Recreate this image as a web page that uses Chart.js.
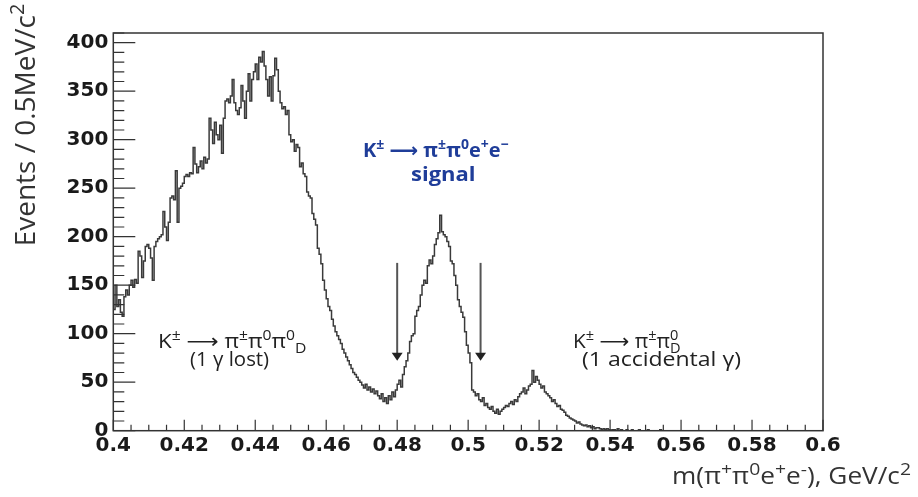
<!DOCTYPE html>
<html><head><meta charset="utf-8">
<script src="https://cdn.jsdelivr.net/npm/chart.js@4.4.1/dist/chart.umd.min.js"></script>
<style>html,body{margin:0;padding:0;background:#fff;} canvas{display:block;}</style>
</head><body>
<canvas id="c" width="918" height="497"></canvas>
<script>
// ---- data ----
const X_MIN = 0.4, X_MAX = 0.6, BIN_WIDTH = 0.0005;
const Y_MIN = 0, Y_MAX = 410;
const xTickValues = [0.4, 0.42, 0.44, 0.46, 0.48, 0.5, 0.52, 0.54, 0.56, 0.58, 0.6];
const xTickLabels = ['0.4', '0.42', '0.44', '0.46', '0.48', '0.5', '0.52', '0.54', '0.56', '0.58', '0.6'];
const yTickValues = [0, 50, 100, 150, 200, 250, 300, 350, 400];
const yTickLabels = ['0', '50', '100', '150', '200', '250', '300', '350', '400'];
// events per 0.5 MeV bin, from 0.400 to 0.600 GeV (400 bins)
const counts = [
  140,125,150,128,135,122,118,138,145,140,150,155,148,156,152,185,180,158,175,190,
  192,188,178,155,190,195,198,200,202,226,210,196,215,240,242,238,268,215,250,252,
  255,262,264,262,266,265,292,275,266,272,278,270,282,276,280,322,310,296,318,305,
  300,315,286,322,340,342,338,345,362,338,330,326,333,356,340,322,350,368,340,362,
  370,378,362,385,380,391,376,362,345,365,340,366,384,372,350,338,332,334,326,330,
  305,298,300,288,295,292,272,276,265,262,246,242,240,224,218,212,188,182,172,155,
  145,136,128,124,115,108,102,98,94,90,84,80,76,72,68,64,60,58,55,52,
  50,47,44,48,42,45,40,43,38,41,36,33,38,30,34,28,36,32,40,35,
  42,48,52,45,58,66,72,80,92,98,100,118,124,128,140,150,155,152,170,176,
  172,180,192,198,204,222,205,202,200,195,190,175,172,160,150,135,128,122,117,102,
  88,80,70,42,40,36,38,32,30,34,26,28,24,22,25,20,18,22,17,20,
  22,24,26,25,28,30,27,32,30,35,38,40,44,38,42,46,48,62,50,56,
  52,48,44,46,40,38,36,34,30,32,28,25,26,22,21,19,16,15,13,12,
  11,10,8,9,7,6,5,6,4,5,3,4,2,3,3,2,1,2,1,2,
  1,0,1,1,0,2,0,1,0,0,1,0,0,1,0,0,0,1,0,0,
  0,0,1,0,0,0,0,0,0,1,0,0,0,0,0,0,0,0,0,0,
  0,0,0,0,0,0,0,0,0,0,0,0,0,0,0,0,0,0,0,0,
  0,0,0,0,0,0,0,0,0,0,0,0,0,0,0,0,0,0,0,0,
  0,0,0,0,0,0,0,0,0,0,0,0,0,0,0,0,0,0,0,0,
  0,0,0,0,0,0,0,0,0,0,0,0,0,0,0,0,0,0,0,0
];
const arrowX = [0.4800, 0.5035];
const arrowTop = 173, arrowTip = 72;

// ---- styles ----
const TICK_FONT = '"DejaVu Sans", sans-serif';
const TEXT_FONT = '"Open Sans", "DejaVu Sans", sans-serif';
const LINE_COLOR = '#3a3a3a';
const BLUE = '#1f3d99';

// histogram points from bin edges
const histPoints = counts.map((v, i) => ({ x: X_MIN + i * BIN_WIDTH, y: v }));
histPoints.push({ x: X_MAX, y: counts[counts.length - 1] });

// segs: [text, kind] kind: n (normal), sup, sub, subu (subscript stacked under previous sup)
function drawRich(ctx, x, y, segs, size, weight, color, align, sx) {
  sx = sx || 1;
  const small = Math.round(size * 0.72);
  const fontOf = (k) => `${weight} ${k === 'n' ? size : small}px ${TEXT_FONT}`;
  let total = 0, lastStart = 0;
  const layout = [];
  segs.forEach(([t, k]) => {
    ctx.font = fontOf(k);
    const w = ctx.measureText(t).width;
    if (k === 'subu') {
      layout.push([t, k, lastStart]);
      const end = lastStart + w;
      if (end > total) total = end;
    } else {
      layout.push([t, k, total]);
      lastStart = total;
      total += w;
    }
  });
  let x0 = align === 'right' ? x - total * sx : (align === 'center' ? x - total * sx / 2 : x);
  ctx.save();
  ctx.translate(x0, y);
  ctx.scale(sx, 1);
  ctx.fillStyle = color;
  ctx.textBaseline = 'alphabetic';
  ctx.textAlign = 'left';
  layout.forEach(([t, k, px]) => {
    ctx.font = fontOf(k);
    const dy = k === 'sup' ? -size * 0.4 : ((k === 'sub' || k === 'subu') ? size * 0.25 : 0);
    ctx.fillText(t, px, dy);
  });
  ctx.restore();
}

const decor = {
  id: 'decor',
  afterDatasetsDraw(chart) {
    const { ctx, chartArea: a, scales: { x, y } } = chart;
    ctx.save();
    // frame
    ctx.strokeStyle = '#333';
    ctx.lineWidth = 1.5;
    ctx.strokeRect(a.left, a.top, a.right - a.left, a.bottom - a.top);
    // inward ticks
    ctx.lineWidth = 1.2;
    ctx.beginPath();
    for (let k = 0; k <= 40; k++) {
      const v = X_MIN + k * 0.005;
      const px = x.getPixelForValue(v);
      const len = (k % 4 === 0) ? 11 : 6;
      ctx.moveTo(px, a.bottom); ctx.lineTo(px, a.bottom - len);
    }
    for (let k = 0; k <= 41; k++) {
      const v = k * 10;
      const py = y.getPixelForValue(v);
      const len = (k % 5 === 0) ? 22 : 11;
      ctx.moveTo(a.left, py); ctx.lineTo(a.left + len, py);
    }
    ctx.stroke();
    // arrows
    ctx.strokeStyle = '#555';
    ctx.fillStyle = '#222';
    ctx.lineWidth = 2;
    arrowX.forEach(v => {
      const px = x.getPixelForValue(v);
      const top = y.getPixelForValue(arrowTop);
      const tip = y.getPixelForValue(arrowTip);
      ctx.beginPath(); ctx.moveTo(px, top); ctx.lineTo(px, tip - 7); ctx.stroke();
      ctx.beginPath(); ctx.moveTo(px - 5.5, tip - 8); ctx.lineTo(px + 5.5, tip - 8); ctx.lineTo(px, tip); ctx.closePath(); ctx.fill();
    });
    // annotations
    const arrowGlyph = ' \u27F6 ';
    drawRich(ctx, 158, 348, [['K','n'],['\u00B1','sup'],[arrowGlyph + '\u03C0','n'],['\u00B1','sup'],['\u03C0','n'],['0','sup'],['\u03C0','n'],['0','sup'],['D','sub']], 20, 'normal', '#222', 'left', 1.12);
    drawRich(ctx, 190, 366, [['(1 \u03B3 lost)','n']], 20, 'normal', '#222', 'left', 1.02);
    drawRich(ctx, 573, 348, [['K','n'],['\u00B1','sup'],[arrowGlyph + '\u03C0','n'],['\u00B1','sup'],['\u03C0','n'],['0','sup'],['D','subu']], 20, 'normal', '#222', 'left', 1.04);
    drawRich(ctx, 582, 366, [['(1 accidental \u03B3)','n']], 20, 'normal', '#222', 'left', 1.15);
    drawRich(ctx, 363, 157, [['K','n'],['\u00B1','sup'],[arrowGlyph + '\u03C0','n'],['\u00B1','sup'],['\u03C0','n'],['0','sup'],['e','n'],['+','sup'],['e','n'],['\u2212','sup']], 20, 'bold', BLUE, 'left', 1.0);
    drawRich(ctx, 411, 181, [['signal','n']], 20, 'bold', BLUE, 'left', 1.1);
    // axis titles
    drawRich(ctx, 911, 484, [['m(\u03C0','n'],['+','sup'],['\u03C0','n'],['0','sup'],['e','n'],['+','sup'],['e','n'],['-','sup'],['), GeV/c','n'],['2','sup']], 23, 'normal', '#333', 'right', 1.14);
    ctx.translate(35, 125);
    ctx.rotate(-Math.PI / 2);
    drawRich(ctx, 0, 0, [['Events / 0.5MeV/c','n'],['2','sup']], 28, 'normal', '#333', 'center', 1.0);
    ctx.restore();
  }
};

new Chart(document.getElementById('c'), {
  type: 'line',
  data: {
    datasets: [{
      data: histPoints,
      stepped: 'after',
      borderColor: LINE_COLOR,
      borderWidth: 1.5,
      pointRadius: 0,
      fill: false
    }]
  },
  options: {
    responsive: false,
    animation: false,
    layout: { padding: { top: 33, right: 95, left: 0, bottom: 0 } },
    plugins: { legend: { display: false }, tooltip: { enabled: false } },
    scales: {
      x: {
        type: 'linear', min: X_MIN, max: X_MAX,
        grid: { display: false, drawTicks: false },
        border: { display: false },
        afterBuildTicks: s => { s.ticks = xTickValues.map(v => ({ value: v })); },
        afterFit: s => { s.height = 66.3; },
        ticks: {
          autoSkip: false, maxRotation: 0, padding: 3,
          color: '#1a1a1a',
          font: { family: TICK_FONT, weight: 'bold', size: 20 },
          callback: (v, i) => xTickLabels[i]
        }
      },
      y: {
        type: 'linear', min: Y_MIN, max: Y_MAX,
        grid: { display: false, drawTicks: false },
        border: { display: false },
        afterBuildTicks: s => { s.ticks = yTickValues.map(v => ({ value: v })); },
        afterFit: s => { s.width = 113.3; },
        ticks: {
          padding: 5,
          color: '#1a1a1a',
          font: { family: TICK_FONT, weight: 'bold', size: 20 },
          callback: (v, i) => yTickLabels[i]
        }
      }
    }
  },
  plugins: [decor]
});
</script>
</body></html>
